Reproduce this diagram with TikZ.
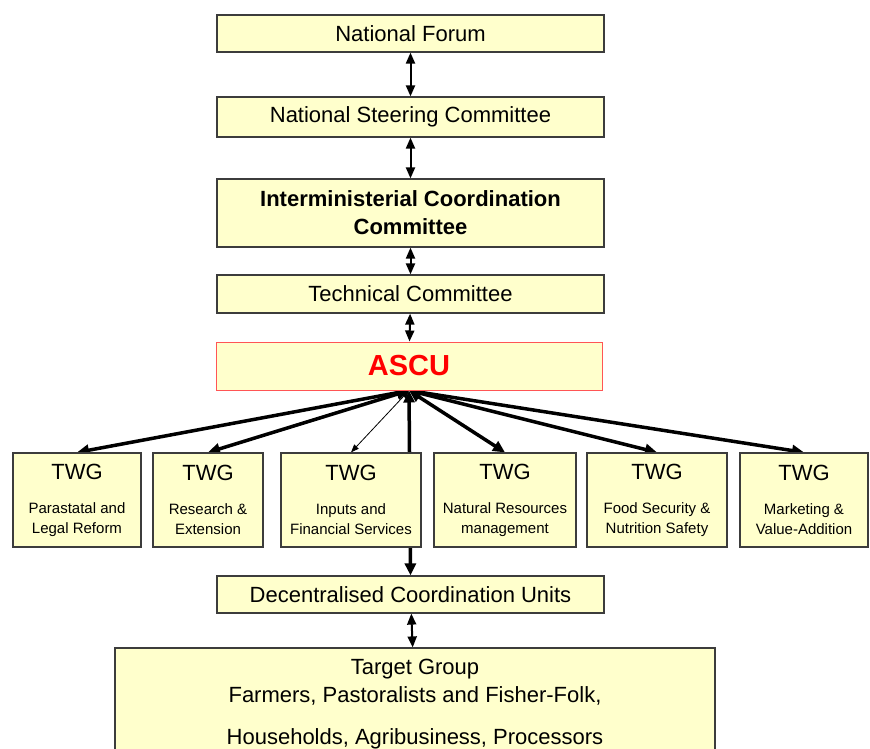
\documentclass[tikz,border=0pt]{standalone}
\usepackage{fontspec}
\setmainfont{Liberation Sans}
\usetikzlibrary{arrows.meta,backgrounds}

\definecolor{boxfill}{RGB}{255,255,204}
\definecolor{boxline}{RGB}{60,60,60}
\definecolor{ascutext}{RGB}{255,0,0}
\definecolor{asculine}{RGB}{255,85,85}

\newcommand{\twgtitle}{\fontsize{22}{28}\selectfont}

\tikzset{
  unit/.style={draw=boxline, fill=boxfill, line width=1.2pt, inner sep=0pt,
    align=center, font=\fontsize{22}{28}\selectfont, minimum width=387pt},
  twg/.style={unit, minimum height=94pt, font=\fontsize{15}{20}\selectfont},
  ascubox/.style={unit, draw=asculine, line width=1pt, text=ascutext,
    font=\fontsize{29}{34}\selectfont\bfseries},
  link/.style={{Triangle[length=11pt,width=9pt]}-{Triangle[length=11pt,width=9pt]},
    line width=2pt},
  spoke/.style={{Triangle[length=12pt,width=11pt]}-{Triangle[length=12pt,width=11pt]},
    line width=3.5pt},
  thinspoke/.style={{Triangle[length=8pt,width=6pt]}-{Triangle[length=8pt,width=6pt]},
    line width=0.8pt}
}

\begin{document}
\begin{tikzpicture}[x=1pt,y=1pt,yscale=-1]
\useasboundingbox (0,0) rectangle (870,748);
\clip (0,0) rectangle (870,748);

%Top chain
\node[unit, minimum height=37pt] (nforum) at (410.5,33.5) {National Forum};
\node[unit, minimum height=40pt] (nsteer) at (410.5,117) {National Steering Committee};
\node[unit, minimum height=68pt, font=\fontsize{22}{28}\selectfont\bfseries] (icc) at (410.5,213) {Interministerial Coordination\\Committee};
\node[unit, minimum height=38pt] (techc) at (410.5,294) {Technical Committee};
\node[ascubox, minimum width=386pt, minimum height=48pt] (ascu) at (409,366) {ASCU};

%Technical working groups
\node[twg, minimum width=128pt] (twgpar) at (77,500) {{\twgtitle TWG}\\[14pt]Parastatal and\\Legal Reform};
\node[twg, minimum width=110pt] (twgres) at (208,500) {{\twgtitle TWG}\\[14pt]Research \&\\Extension};
\node[twg, minimum width=140pt] (twginp) at (351,500) {{\twgtitle TWG}\\[14pt]Inputs and\\Financial Services};
\node[twg, minimum width=142pt] (twgnat) at (505,500) {{\twgtitle TWG}\\[14pt]Natural Resources\\management};
\node[twg, minimum width=140pt] (twgfood) at (657,500) {{\twgtitle TWG}\\[14pt]Food Security \&\\Nutrition Safety};
\node[twg, minimum width=128pt] (twgmkt) at (804,500) {{\twgtitle TWG}\\[14pt]Marketing \&\\Value-Addition};

%Lower chain
\node[unit, minimum height=37pt] (dcu) at (410.5,594.5) {Decentralised Coordination Units};
\node[unit, minimum width=600pt, minimum height=112pt] (target) at (415,704) {Target Group\\Farmers, Pastoralists and Fisher-Folk,\\[14pt]Households, Agribusiness, Processors};

%Connectors
\begin{pgfonlayer}{background}
\draw[link] (nforum) -- (nsteer);
\draw[link] (nsteer) -- (icc);
\draw[link] (icc) -- (techc);
\draw[link] (techc) -- (ascu);
\draw[spoke] (ascu.south) -- (twgpar.north);
\draw[spoke] (ascu.south) -- (twgres.north);
\draw[thinspoke] (ascu.south) -- (twginp.north);
\draw[spoke] (ascu.south) -- (dcu.north);
\draw[spoke] (ascu.south) -- (twgnat.north);
\draw[spoke] (ascu.south) -- (twgfood.north);
\draw[spoke] (ascu.south) -- (twgmkt.north);
\draw[link] (dcu) -- (target);
\end{pgfonlayer}

\end{tikzpicture}
\end{document}
